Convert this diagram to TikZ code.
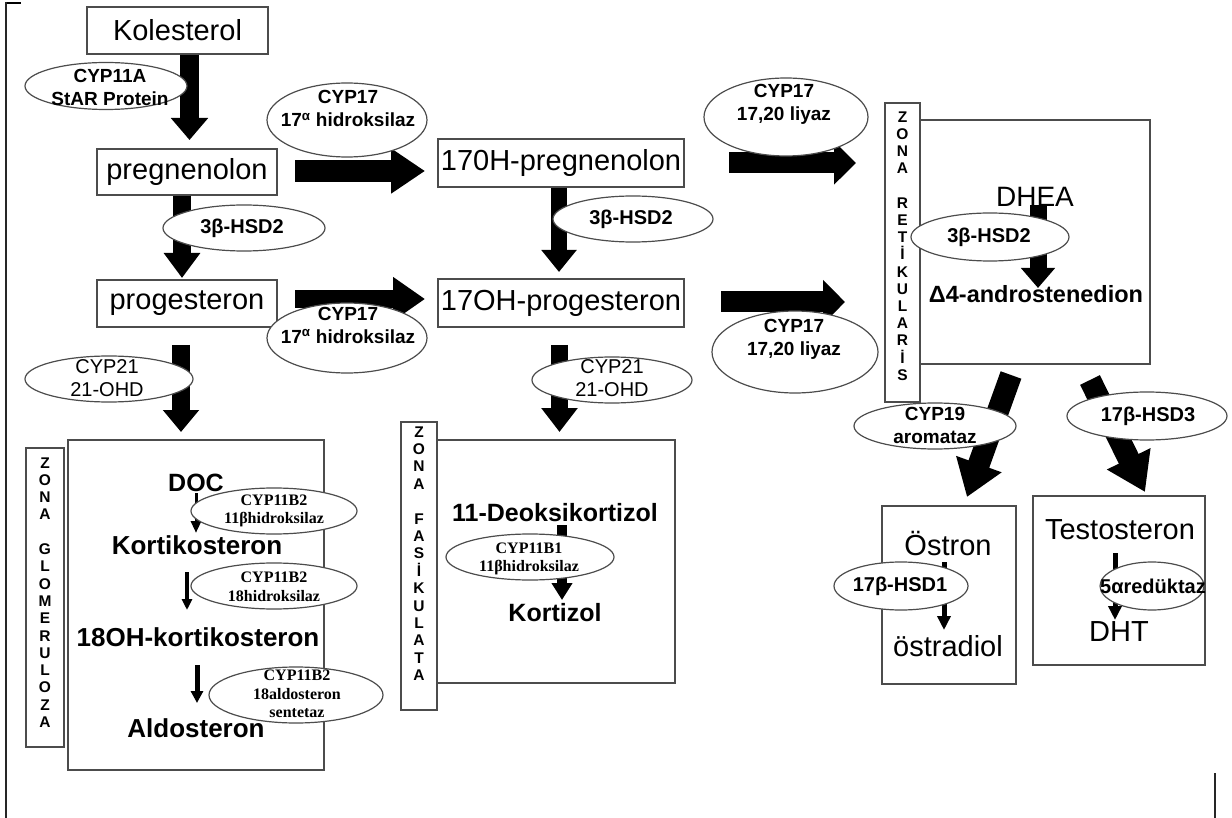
\documentclass[tikz,border=0pt]{standalone}
\usepackage{fontspec}
\setmainfont{Liberation Sans}
\newfontfamily\serfont{Liberation Serif}
\usetikzlibrary{arrows.meta,shapes.geometric}
\begin{document}
\begin{tikzpicture}[x=1pt,y=-1pt,
  boxs/.style={draw=black!70,line width=1.2pt,inner sep=0pt},
  cmp/.style={boxs,font=\fontsize{29}{34}\selectfont},
  enz/.style={ellipse,draw=black!70,fill=white,line width=1.2pt,inner sep=0pt},
  etx/.style={align=center,font=\fontsize{19}{23}\selectfont\bfseries,inner sep=0pt},
  btx/.style={font=\fontsize{26}{30}\selectfont\bfseries,inner sep=0pt},
  rtx/.style={font=\fontsize{29}{34}\selectfont,inner sep=0pt},
  stx/.style={align=center,font=\fontsize{16}{18.5}\selectfont\serfont\bfseries,inner sep=0pt},
  ztx/.style={align=center,font=\fontsize{15.5}{#1}\selectfont\bfseries,inner sep=0pt},
  blk/.style n args={3}{line width=#1,-{Triangle[width=#2,length=#3]}},
]
\useasboundingbox (0,0) rectangle (1232,818);

% page frame fragments
\coordinate (fa) at (5,3); \coordinate (fb) at (21,3);
\coordinate (fc) at (6,2); \coordinate (fd) at (6,818);
\coordinate (fe) at (1215,773); \coordinate (ff) at (1215,818);
\draw[line width=2pt] (fa) -- (fb);
\draw[line width=1.4pt,black!85] (fc) -- (fd);
\draw[line width=1.6pt,black!85] (fe) -- (ff);

% compound boxes
\node[cmp,minimum width=181pt,minimum height=47pt] (kol) at (177.5,30.5) {Kolesterol};
\node[cmp,minimum width=180pt,minimum height=46pt] (preg) at (187,172) {pregnenolon};
\node[cmp,minimum width=180pt,minimum height=47pt] (prog) at (187,303.5) {progesteron};
\node[cmp,minimum width=246pt,minimum height=48pt] (ohpreg) at (561,163) {170H-pregnenolon};
\node[cmp,minimum width=246pt,minimum height=48pt] (ohprog) at (561,303) {17OH-progesteron};

% zone boxes
\node[boxs,minimum width=230pt,minimum height=244pt] (retbox) at (1035,242) {};
\node[boxs,minimum width=35pt,minimum height=299pt] (retstrip) at (902.5,252.5) {};
\node[boxs,minimum width=256pt,minimum height=330pt] (globox) at (196,605) {};
\node[boxs,minimum width=38pt,minimum height=299pt] (glostrip) at (45,597.5) {};
\node[boxs,minimum width=238pt,minimum height=243pt] (fasbox) at (556,561.5) {};
\node[boxs,minimum width=36pt,minimum height=288pt] (fasstrip) at (419,566) {};
\node[boxs,minimum width=134pt,minimum height=178pt] (ostbox) at (949,595) {};
\node[boxs,minimum width=172pt,minimum height=169pt] (tesbox) at (1119,580.5) {};

% zone letters
\node[ztx=17.2pt] (rettx) at (902.5,246) {Z\\O\\N\\A\\[17.2pt]R\\E\\T\\İ\\K\\U\\L\\A\\R\\İ\\S};
\node[ztx=17.3pt] (glotx) at (45,592.5) {Z\\O\\N\\A\\[17.3pt]G\\L\\O\\M\\E\\R\\U\\L\\O\\Z\\A};
\node[ztx=17.4pt] (fastx) at (419,553.5) {Z\\O\\N\\A\\[17.4pt]F\\A\\S\\İ\\K\\U\\L\\A\\T\\A};

% block arrows
\coordinate (t1) at (189.5,140);
\draw[blk={19pt}{36pt}{22pt}] (kol.south -| t1) -- (t1);
\coordinate (t2) at (182,278);
\draw[blk={18pt}{35pt}{25pt}] (preg.south -| t2) -- (t2);
\coordinate (s3) at (181,345); \coordinate (t3) at (181,432);
\draw[blk={18pt}{35pt}{22pt}] (s3) -- (t3);
\coordinate (s4) at (295,171); \coordinate (t4) at (425,171);
\draw[blk={22pt}{43pt}{34pt}] (s4) -- (t4);
\coordinate (s5) at (295,299); \coordinate (t5) at (425,299);
\draw[blk={18pt}{42pt}{32pt}] (s5) -- (t5);
\coordinate (t6) at (559,272);
\draw[blk={16pt}{34pt}{22pt}] (ohpreg.south -| t6) -- (t6);
\coordinate (s7) at (559.5,345); \coordinate (t7) at (559.5,432);
\draw[blk={17pt}{35pt}{24pt}] (s7) -- (t7);
\coordinate (s8) at (729,163); \coordinate (t8) at (856,163);
\draw[blk={21pt}{42pt}{22pt}] (s8) -- (t8);
\coordinate (s9) at (721,302); \coordinate (t9) at (845,302);
\draw[blk={21pt}{43pt}{22pt}] (s9) -- (t9);
\coordinate (s10) at (1038,205); \coordinate (t10) at (1038,288);
\draw[blk={17pt}{33pt}{20pt}] (s10) -- (t10);
\coordinate (s11) at (1011,375); \coordinate (t11) at (967,497);
\draw[blk={22pt}{46pt}{35pt}] (s11) -- (t11);
\coordinate (s12) at (1090,380); \coordinate (t12) at (1145,492);
\draw[blk={22pt}{46pt}{37pt}] (s12) -- (t12);
\coordinate (s13) at (944,562); \coordinate (t13) at (944,630);
\draw[blk={5pt}{13pt}{14pt}] (s13) -- (t13);
\coordinate (s14) at (1115,553); \coordinate (t14) at (1115,620);
\draw[blk={5pt}{13pt}{14pt}] (s14) -- (t14);
\coordinate (s15) at (196,493); \coordinate (t15) at (196,533);
\draw[blk={3pt}{10pt}{12pt}] (s15) -- (t15);
\coordinate (s16) at (187,572); \coordinate (t16) at (187,610);
\draw[blk={3.5pt}{10pt}{11pt}] (s16) -- (t16);
\coordinate (s17) at (197,665); \coordinate (t17) at (197,703);
\draw[blk={5pt}{12pt}{12pt}] (s17) -- (t17);
\coordinate (s18) at (562,525); \coordinate (t18) at (562,600);
\draw[blk={10pt}{20pt}{17pt}] (s18) -- (t18);

% compounds inside zones
\node[rtx,font=\fontsize{28}{32}\selectfont] (dhea) at (1035,197) {DHEA};
\node[btx,font=\fontsize{23.5}{28}\selectfont\bfseries] (andro) at (1036,294) {Δ4-androstenedion};
\node[btx,font=\fontsize{25}{30}\selectfont\bfseries] (doc) at (196,483) {DOC};
\node[btx] (korti) at (197,545) {Kortikosteron};
\node[btx] (ohkorti) at (198,637) {18OH-kortikosteron};
\node[btx] (aldo) at (196,728) {Aldosteron};
\node[btx,font=\fontsize{25}{30}\selectfont\bfseries] (deoksi) at (555,513) {11-Deoksikortizol};
\node[btx,font=\fontsize{25}{30}\selectfont\bfseries] (kortizol) at (555,613) {Kortizol};
\node[rtx] (ostron) at (948,544) {Östron};
\node[rtx] (ostradiol) at (948,646) {östradiol};
\node[rtx] (testo) at (1120,530) {Testosteron};
\node[rtx] (dht) at (1119,632) {DHT};

% enzyme ellipses
\node[enz,minimum width=162pt,minimum height=47pt] (e1) at (106,86) {};
\node[etx] (e1t) at (110,87.5) {CYP11A\\StAR Protein};
\node[enz,minimum width=160pt,minimum height=74pt] (e2) at (347,120) {};
\node[etx] (e2t) at (348,108.5) {CYP17\\17\textsuperscript{α} hidroksilaz};
\node[enz,minimum width=162pt,minimum height=46pt] (e3) at (244,228) {};
\node[etx,font=\fontsize{20}{24}\selectfont\bfseries] (e3t) at (242,228) {3β-HSD2};
\node[enz,minimum width=160pt,minimum height=46pt] (e4) at (633,219) {};
\node[etx,font=\fontsize{20}{24}\selectfont\bfseries] (e4t) at (631,219) {3β-HSD2};
\node[enz,minimum width=160pt,minimum height=70pt] (e5) at (347,338) {};
\node[etx] (e5t) at (348,325) {CYP17\\17\textsuperscript{α} hidroksilaz};
\node[enz,minimum width=164pt,minimum height=78pt] (e6) at (786,117) {};
\node[etx] (e6t) at (784,104.5) {CYP17\\17,20 liyaz};
\node[enz,minimum width=166pt,minimum height=82pt] (e7) at (795,352) {};
\node[etx] (e7t) at (794,339.5) {CYP17\\17,20 liyaz};
\node[enz,minimum width=158pt,minimum height=48pt] (e8) at (990,237) {};
\node[etx,font=\fontsize{20}{24}\selectfont\bfseries] (e8t) at (989,237) {3β-HSD2};
\node[enz,minimum width=168pt,minimum height=46pt] (e9) at (109,379) {};
\node[etx,font=\fontsize{20}{23}\selectfont] (e9t) at (107,378.5) {CYP21\\21-OHD};
\node[enz,minimum width=160pt,minimum height=46pt] (e10) at (612,380) {};
\node[etx,font=\fontsize{20}{23}\selectfont] (e10t) at (612,378.5) {CYP21\\21-OHD};
\node[enz,minimum width=166pt,minimum height=46pt] (e11) at (274,511) {};
\node[stx] (e11t) at (274,511) {CYP11B2\\11βhidroksilaz};
\node[enz,minimum width=166pt,minimum height=46pt] (e12) at (274,586) {};
\node[stx] (e12t) at (274,587) {CYP11B2\\18hidroksilaz};
\node[enz,minimum width=174pt,minimum height=56pt] (e13) at (296,695) {};
\node[stx] (e13t) at (297,694) {CYP11B2\\18aldosteron\\sentetaz};
\node[enz,minimum width=168pt,minimum height=46pt] (e14) at (530,557) {};
\node[stx] (e14t) at (529,559) {CYP11B1\\11βhidroksilaz};
\node[enz,minimum width=162pt,minimum height=46pt] (e15) at (935,426) {};
\node[etx] (e15t) at (935,425) {CYP19\\aromataz};
\node[enz,minimum width=160pt,minimum height=48pt] (e16) at (1147,416) {};
\node[etx,font=\fontsize{20}{24}\selectfont\bfseries] (e16t) at (1148,416) {17β-HSD3};
\node[enz,minimum width=134pt,minimum height=48pt] (e17) at (901,586) {};
\node[etx,font=\fontsize{20}{24}\selectfont\bfseries] (e17t) at (900,586) {17β-HSD1};
\node[enz,minimum width=104pt,minimum height=48pt] (e18) at (1152,586) {};
\node[etx,font=\fontsize{20}{24}\selectfont\bfseries] (e18t) at (1153,586) {5αredüktaz};
\end{tikzpicture}
\end{document}
